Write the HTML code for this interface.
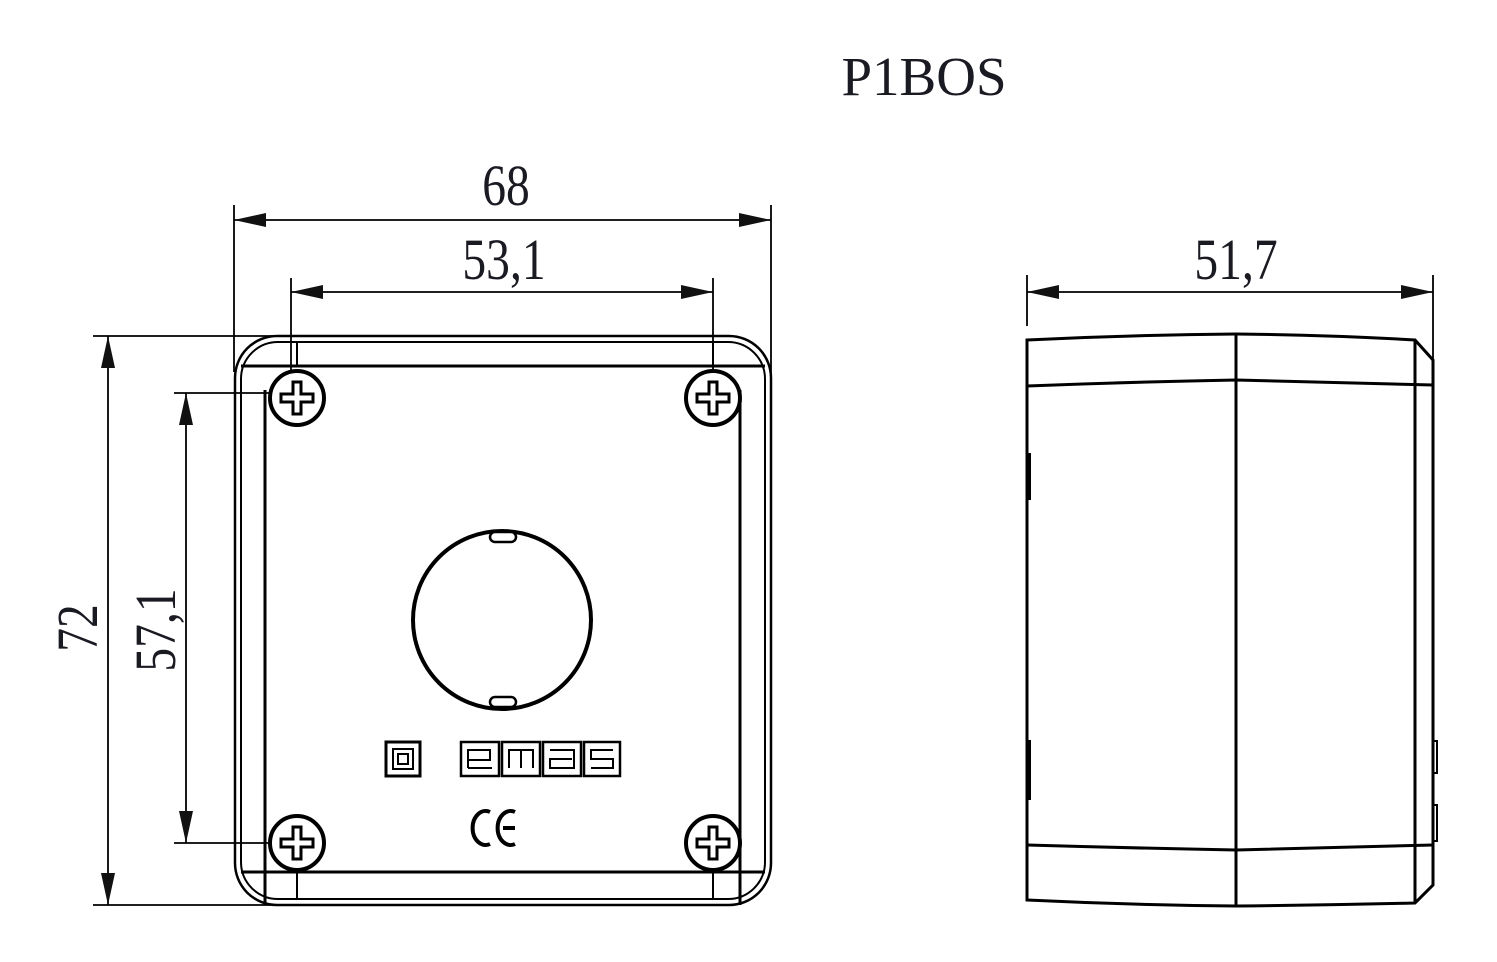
<!DOCTYPE html>
<html><head><meta charset="utf-8"><style>
html,body{margin:0;padding:0;background:#fff;}
svg{display:block}
text{font-family:"Liberation Serif",serif;fill:#1a1a22}
</style></head><body>
<svg width="1497" height="962" viewBox="0 0 1497 962" xmlns="http://www.w3.org/2000/svg">
<defs>
<marker id="a" viewBox="0 0 32 14" refX="32" refY="7" markerWidth="32" markerHeight="14" markerUnits="userSpaceOnUse" orient="auto-start-reverse"><path d="M0,0 L32,7 L0,14z" fill="#111"/></marker>
<g id="scr"><circle r="27" fill="#fff" stroke="#000" stroke-width="4"/><path d="M-4,-16 h8 v12 h12 v8 h-12 v12 h-8 v-12 h-12 v-8 h12z" fill="none" stroke="#000" stroke-width="3"/></g>
</defs>
<text x="924" y="95" font-size="55" text-anchor="middle">P1BOS</text>
<g stroke="#000" stroke-width="1.8" fill="none">
<line x1="234" y1="205" x2="234" y2="372"/><line x1="771" y1="205" x2="771" y2="380"/>
<line x1="234" y1="220" x2="771" y2="220" marker-start="url(#a)" marker-end="url(#a)"/>
<line x1="291" y1="278" x2="291" y2="398"/><line x1="713" y1="278" x2="713" y2="398"/>
<line x1="291" y1="292" x2="713" y2="292" marker-start="url(#a)" marker-end="url(#a)"/>
<line x1="93" y1="336" x2="290" y2="336"/><line x1="93" y1="905" x2="290" y2="905"/>
<line x1="108" y1="336" x2="108" y2="905" marker-start="url(#a)" marker-end="url(#a)"/>
<line x1="174" y1="393" x2="297" y2="393"/><line x1="174" y1="843" x2="297" y2="843"/>
<line x1="186" y1="393" x2="186" y2="843" marker-start="url(#a)" marker-end="url(#a)"/>
<line x1="1027" y1="275" x2="1027" y2="326"/><line x1="1433" y1="275" x2="1433" y2="360"/>
<line x1="1027" y1="292" x2="1433" y2="292" marker-start="url(#a)" marker-end="url(#a)"/>
</g>
<g font-size="58">
<text transform="translate(506,205) scale(0.82,1)" text-anchor="middle">68</text>
<text transform="translate(504,279) scale(0.82,1)" text-anchor="middle">53,1</text>
<text transform="translate(1236,279) scale(0.82,1)" text-anchor="middle">51,7</text>
<text transform="translate(97,628) rotate(-90) scale(0.82,1)" text-anchor="middle">72</text>
<text transform="translate(175,630) rotate(-90) scale(0.82,1)" text-anchor="middle">57,1</text>
</g>
<g fill="none" stroke="#000">
<rect x="235" y="336" width="536" height="569" rx="42" stroke-width="2.5"/>
<rect x="241" y="342" width="524" height="557" rx="37" stroke-width="2"/>
<path d="M265,905 V390 M740,390 V905" stroke-width="3"/>
<line x1="241" y1="366" x2="765" y2="366" stroke-width="3"/>
<line x1="241" y1="872" x2="765" y2="872" stroke-width="3"/>
<line x1="297" y1="342" x2="297" y2="366" stroke-width="2"/>
<line x1="713" y1="342" x2="713" y2="366" stroke-width="2"/>
<line x1="297" y1="872" x2="297" y2="899" stroke-width="2"/>
<line x1="713" y1="872" x2="713" y2="899" stroke-width="2"/>
<circle cx="502" cy="620" r="89" stroke-width="4"/>
<rect x="490" y="532" width="26" height="10" rx="5" fill="#fff" stroke-width="2.5"/>
<rect x="490" y="697" width="26" height="10" rx="5" fill="#fff" stroke-width="2.5"/>
<rect x="386" y="742" width="34" height="34" stroke-width="3"/>
<rect x="393" y="749" width="20" height="20" stroke-width="2"/>
<rect x="398" y="754" width="10" height="10" stroke-width="2"/>
<rect x="461" y="742" width="38" height="34" stroke-width="2.5"/>
<rect x="502" y="742" width="38" height="34" stroke-width="2.5"/>
<rect x="543" y="742" width="38" height="34" stroke-width="2.5"/>
<rect x="584" y="742" width="36" height="34" stroke-width="2.5"/>
<path d="M468,768 h24 M468,760 h22 v-10 h-22 v18" stroke-width="2"/>
<path d="M509,768 v-18 h24 v18 M521,750 v18" stroke-width="2"/>
<path d="M550,750 h24 v18 h-24 v-9 h22" stroke-width="2"/>
<path d="M613,750 h-22 v9 h22 v9 h-22" stroke-width="2"/>
<path d="M490,812 a13,17 0 1 0 0,32" stroke-width="4"/>
<path d="M515,812 a13,17 0 1 0 0,32 M503,828 h12" stroke-width="4"/>
</g>
<use href="#scr" x="297" y="398"/><use href="#scr" x="713" y="398"/>
<use href="#scr" x="297" y="843"/><use href="#scr" x="713" y="843"/>
<g fill="none" stroke="#000" stroke-width="3">
<path d="M1027,340 Q1130,335 1236,334 Q1330,335 1415,340 L1433,360 L1433,885 L1415,903 Q1330,905 1236,906 Q1130,905 1027,900 Z"/>
<line x1="1236" y1="334" x2="1236" y2="906"/>
<line x1="1415" y1="340" x2="1415" y2="903"/>
<path d="M1027,386 Q1130,382 1236,380 Q1330,382 1433,385"/>
<path d="M1027,845 Q1130,848 1236,850 Q1330,848 1433,845"/>
<line x1="1029" y1="453" x2="1029" y2="500" stroke-width="4"/>
<line x1="1029" y1="740" x2="1029" y2="800" stroke-width="4"/>
<path d="M1433,741 h4 v32 h-4 M1433,805 h4 v36 h-4" stroke-width="2"/>
</g>
</svg>
</body></html>
